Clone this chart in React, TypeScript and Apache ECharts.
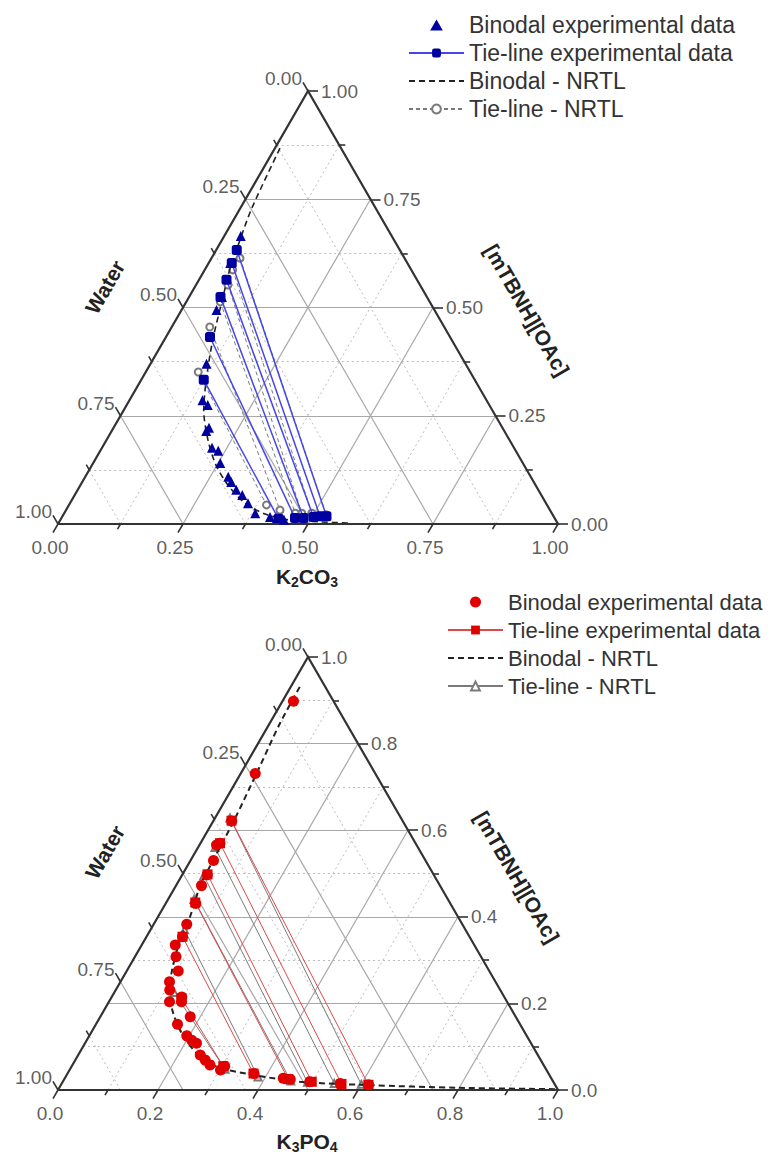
import React, { useEffect, useRef } from 'react';
import * as echarts from 'echarts';

const SQ = Math.sqrt(3) / 2;
const FONT = 'Liberation Sans, Arial, sans-serif';

// ---------- data: [salt mass fraction, IL mass fraction] ----------
// Top chart: K2CO3 + [mTBNH][OAc] + water
const k2co3BinodalExp = [
  [0.033, 0.665], [0.043, 0.603], [0.066, 0.524], [0.070, 0.494], [0.112, 0.370],
  [0.146, 0.286], [0.162, 0.275], [0.191, 0.222], [0.189, 0.215], [0.220, 0.176],
  [0.236, 0.169], [0.254, 0.141], [0.286, 0.109], [0.298, 0.097], [0.317, 0.079],
  [0.335, 0.067], [0.356, 0.048], [0.382, 0.025], [0.416, 0.016], [0.431, 0.014],
  [0.447, 0.010],
];
const k2co3TieExp = [
  [[0.041, 0.633], [0.528, 0.018]],
  [[0.046, 0.603], [0.515, 0.018]],
  [[0.055, 0.564], [0.503, 0.016]],
  [[0.063, 0.524], [0.484, 0.014]],
  [[0.088, 0.432], [0.467, 0.014]],
  [[0.125, 0.333], [0.435, 0.012]],
];
const k2co3BinodalNrtl = [
  [0.010, 0.868], [0.023, 0.729], [0.036, 0.656], [0.050, 0.587], [0.070, 0.517],
  [0.097, 0.425], [0.130, 0.333], [0.160, 0.263], [0.203, 0.194], [0.248, 0.136],
  [0.295, 0.090], [0.350, 0.048], [0.403, 0.023], [0.459, 0.009], [0.521, 0.005],
  [0.583, 0.002],
];
const k2co3TieNrtl = [
  [[0.057, 0.614], [0.526, 0.021]],
  [[0.056, 0.587], [0.495, 0.025]],
  [[0.064, 0.552], [0.475, 0.025]],
  [[0.068, 0.513], [0.462, 0.025]],
  [[0.076, 0.455], [0.428, 0.032]],
  [[0.105, 0.351], [0.395, 0.044]],
];

// Bottom chart: K3PO4 + [mTBNH][OAc] + water
const k3po4BinodalExp = [
  [0.022, 0.898], [0.029, 0.731], [0.037, 0.621], [0.039, 0.570], [0.034, 0.566],
  [0.046, 0.530], [0.050, 0.497], [0.051, 0.472], [0.060, 0.431], [0.066, 0.383],
  [0.072, 0.354], [0.067, 0.335], [0.082, 0.308], [0.103, 0.275], [0.098, 0.250],
  [0.108, 0.231], [0.140, 0.215], [0.121, 0.204], [0.145, 0.204], [0.180, 0.169],
  [0.163, 0.152], [0.195, 0.125], [0.210, 0.115], [0.223, 0.108], [0.244, 0.081],
  [0.260, 0.069], [0.275, 0.058], [0.302, 0.046], [0.306, 0.055], [0.373, 0.038],
  [0.437, 0.027], [0.452, 0.025], [0.494, 0.019], [0.557, 0.015], [0.615, 0.012],
];
const k3po4TieExp = [
  [[0.036, 0.622], [0.615, 0.012]],
  [[0.039, 0.570], [0.560, 0.014]],
  [[0.050, 0.498], [0.498, 0.019]],
  [[0.058, 0.433], [0.448, 0.025]],
  [[0.072, 0.354], [0.372, 0.038]],
  [[0.141, 0.212], [0.303, 0.055]],
];
const k3po4BinodalNrtl = [
  [0.018, 0.931], [0.0205, 0.847], [0.030, 0.747], [0.041, 0.620], [0.045, 0.531],
  [0.049, 0.470], [0.064, 0.400], [0.071, 0.346], [0.092, 0.270], [0.112, 0.223],
  [0.142, 0.177], [0.182, 0.131], [0.235, 0.085], [0.290, 0.054], [0.373, 0.035],
  [0.474, 0.019], [0.612, 0.0115], [0.800, 0.005], [0.993, 0.002],
];
const k3po4TieNrtl = [
  [[0.030, 0.628], [0.600, 0.013]],
  [[0.034, 0.560], [0.545, 0.015]],
  [[0.044, 0.495], [0.490, 0.018]],
  [[0.052, 0.440], [0.455, 0.021]],
  [[0.068, 0.370], [0.385, 0.030]],
  [[0.120, 0.225], [0.310, 0.048]],
];

// ---------- ticks ----------
const topSaltMajor = [0, 0.25, 0.5, 0.75, 1];
const topSaltMinor = [0.125, 0.375, 0.625, 0.875];
const topSaltLabels = ['0.00', '0.25', '0.50', '0.75', '1.00'];
const topILMajor = [0, 0.25, 0.5, 0.75, 1];
const topILMinor = [0.125, 0.375, 0.625, 0.875];
const topILLabels = ['0.00', '0.25', '0.50', '0.75', '1.00'];
const topWaterMajor = [0, 0.25, 0.5, 0.75, 1];
const topWaterMinor = [0.125, 0.375, 0.625, 0.875];
const topWaterLabels = ['0.00', '0.25', '0.50', '0.75', '1.00'];

const botSaltMajor = [0, 0.2, 0.4, 0.6, 0.8, 1];
const botSaltMinor = [0.1, 0.3, 0.5, 0.7, 0.9];
const botSaltLabels = ['0.0', '0.2', '0.4', '0.6', '0.8', '1.0'];
const botILMajor = [0, 0.2, 0.4, 0.6, 0.8, 1];
const botILMinor = [0.1, 0.3, 0.5, 0.7, 0.9];
const botILLabels = ['0.0', '0.2', '0.4', '0.6', '0.8', '1.0'];
const botWaterMajor = [0, 0.25, 0.5, 0.75, 1];
const botWaterMinor = [0.125, 0.375, 0.625, 0.875];
const botWaterLabels = ['0.00', '0.25', '0.50', '0.75', '1.00'];

// ---------- helpers ----------
const tern = (p: number[]) => [p[0] + p[1] / 2, p[1] * SQ];
const PX = 1 / 500; // data units per pixel (grid is 500px per unit)
const TRIANGLE_ICON = 'path://M5,0L10,8.66L0,8.66Z';

function frame(g: number, cfg: any) {
  const inner = (v: number) => v > 1e-9 && v < 1 - 1e-9;
  const waterSegs = (vals: number[]) =>
    vals.filter(inner).map((w) => [tern([1 - w, 0]), tern([0, 1 - w])]);

  const majorGrid = [
    ...cfg.saltMajor.filter(inner).map((v: number) => [tern([v, 0]), tern([v, 1 - v])]),
    ...cfg.ilMajor.filter(inner).map((v: number) => [tern([0, v]), tern([1 - v, v])]),
    ...waterSegs(cfg.waterMajor),
  ];
  const minorGrid = [
    ...cfg.saltMinor.map((v: number) => [tern([v, 0]), tern([v, 1 - v])]),
    ...cfg.ilMinor.map((v: number) => [tern([0, v]), tern([1 - v, v])]),
    ...waterSegs(cfg.waterMinor),
  ];

  const saltTick = (s: number, L: number) => {
    const a = tern([s, 0]);
    return [a, [a[0] - 0.5 * L * PX, a[1] - SQ * L * PX]];
  };
  const ilTick = (v: number, L: number) => {
    const a = tern([1 - v, v]);
    return [a, [a[0] + L * PX, a[1]]];
  };
  const waterTick = (w: number, L: number) => {
    const a = tern([0, 1 - w]);
    return [a, [a[0] - 0.5 * L * PX, a[1] + SQ * L * PX]];
  };
  const ticks = [
    ...cfg.saltMajor.map((v: number) => saltTick(v, 10)),
    ...cfg.saltMinor.map((v: number) => saltTick(v, 6)),
    ...cfg.ilMajor.map((v: number) => ilTick(v, 10)),
    ...cfg.ilMinor.map((v: number) => ilTick(v, 6)),
    ...cfg.waterMajor.map((v: number) => waterTick(v, 10)),
    ...cfg.waterMinor.map((v: number) => waterTick(v, 6)),
  ];

  const common = {
    type: 'lines',
    coordinateSystem: 'cartesian2d',
    xAxisIndex: g,
    yAxisIndex: g,
    silent: true,
    clip: false,
    polyline: false,
  };
  const lblCommon = {
    type: 'scatter',
    xAxisIndex: g,
    yAxisIndex: g,
    symbolSize: 0,
    silent: true,
    clip: false,
    z: 6,
  };
  const lblStyle = { show: true, formatter: '{b}', fontSize: 19, color: '#333', fontFamily: FONT };

  return [
    { ...common, name: 'minorGrid', z: 1, lineStyle: { color: '#bdbdbd', width: 1, type: [2, 3], opacity: 1 }, data: minorGrid.map((c: any) => ({ coords: c })) },
    { ...common, name: 'majorGrid', z: 1, lineStyle: { color: '#a8a8a8', width: 1.2, type: 'solid', opacity: 1 }, data: majorGrid.map((c: any) => ({ coords: c })) },
    { ...common, name: 'ticks', z: 5, lineStyle: { color: '#333', width: 1.6, opacity: 1 }, data: ticks.map((c: any) => ({ coords: c })) },
    {
      ...common, name: 'edges', z: 5, polyline: true,
      lineStyle: { color: '#333', width: 2.2, opacity: 1, join: 'miter' },
      data: [{ coords: [tern([0, 0]), tern([1, 0]), tern([0, 1]), tern([0, 0])] }],
    },
    {
      ...lblCommon, name: 'saltLabels',
      data: cfg.saltMajor.map((v: number, i: number) => ({ name: cfg.saltLabels[i], value: saltTick(v, 10)[1] })),
      label: { ...lblStyle, position: 'bottom', distance: 5, offset: [-3, 0] },
    },
    {
      ...lblCommon, name: 'ilLabels',
      data: cfg.ilMajor.map((v: number, i: number) => ({ name: cfg.ilLabels[i], value: ilTick(v, 10)[1] })),
      label: { ...lblStyle, position: 'right', distance: 3 },
    },
    {
      ...lblCommon, name: 'waterLabels',
      data: cfg.waterMajor.map((v: number, i: number) => ({ name: cfg.waterLabels[i], value: waterTick(v, 10)[1] })),
      label: { ...lblStyle, position: 'left', distance: 1, offset: [0, -4] },
    },
  ];
}

function dataSeries(g: number, sfx: string, d: any) {
  const out: any[] = [];
  d.tieNrtl.forEach((t: number[][]) => {
    out.push({
      type: 'line', name: 'Tie-line - NRTL' + sfx, xAxisIndex: g, yAxisIndex: g, clip: false, z: 2,
      data: t.map(tern), symbol: d.nrtlSymbol, symbolSize: 7, showSymbol: true,
      lineStyle: { color: '#7a7a7a', width: 1, type: d.nrtlTieDash },
      itemStyle: { color: '#7a7a7a' },
    });
  });
  out.push({
    type: 'line', name: 'Binodal - NRTL' + sfx, xAxisIndex: g, yAxisIndex: g, clip: false, z: 3,
    data: d.binNrtl.map(tern), symbol: 'none', smooth: 0.3,
    lineStyle: { color: '#222', width: d.binNrtlWidth, type: [6, 4] },
    itemStyle: { color: '#222' },
  });
  d.tieExp.forEach((t: number[][]) => {
    out.push({
      type: 'line', name: 'Tie-line experimental data' + sfx, xAxisIndex: g, yAxisIndex: g, clip: false, z: 4,
      data: t.map(tern), symbol: d.tieSymbol, symbolSize: 10, showSymbol: true,
      lineStyle: { color: d.tieLineColor, width: d.tieLineWidth },
      itemStyle: { color: d.markColor },
    });
  });
  out.push({
    type: 'scatter', name: 'Binodal experimental data' + sfx, xAxisIndex: g, yAxisIndex: g, clip: false, z: 5,
    data: d.binExp.map(tern), symbol: d.binSymbol, symbolSize: d.binSize,
    itemStyle: { color: d.markColor, opacity: 1 },
  });
  return out;
}

const legendItems = (sfx: string, markSymbol: string, markColor: string) => [
  { name: 'Binodal experimental data' + sfx, icon: markSymbol, itemStyle: { color: markColor } },
  { name: 'Tie-line experimental data' + sfx },
  { name: 'Binodal - NRTL' + sfx, itemStyle: { opacity: 0 } },
  { name: 'Tie-line - NRTL' + sfx },
];

export default function App() {
  const ref = useRef<HTMLDivElement>(null);
  useEffect(() => {
    if (!ref.current) return;
    const chart = echarts.init(ref.current, undefined, { renderer: 'svg' });

    const series = [
      ...frame(0, {
        saltMajor: topSaltMajor, saltMinor: topSaltMinor, saltLabels: topSaltLabels,
        ilMajor: topILMajor, ilMinor: topILMinor, ilLabels: topILLabels,
        waterMajor: topWaterMajor, waterMinor: topWaterMinor, waterLabels: topWaterLabels,
      }),
      ...frame(1, {
        saltMajor: botSaltMajor, saltMinor: botSaltMinor, saltLabels: botSaltLabels,
        ilMajor: botILMajor, ilMinor: botILMinor, ilLabels: botILLabels,
        waterMajor: botWaterMajor, waterMinor: botWaterMinor, waterLabels: botWaterLabels,
      }),
      ...dataSeries(0, '', {
        binExp: k2co3BinodalExp, tieExp: k2co3TieExp, binNrtl: k2co3BinodalNrtl, tieNrtl: k2co3TieNrtl,
        markColor: '#0000a0', tieLineColor: '#4646e6', tieLineWidth: 1.5, tieSymbol: 'roundRect',
        binSymbol: 'triangle', binSize: 10, nrtlSymbol: 'emptyCircle', nrtlTieDash: [4, 3], binNrtlWidth: 1.6,
      }),
      ...dataSeries(1, ' ', {
        binExp: k3po4BinodalExp, tieExp: k3po4TieExp, binNrtl: k3po4BinodalNrtl, tieNrtl: k3po4TieNrtl,
        markColor: '#e00000', tieLineColor: '#e04848', tieLineWidth: 1, tieSymbol: 'rect',
        binSymbol: 'circle', binSize: 11, nrtlSymbol: 'emptyTriangle', nrtlTieDash: 'solid', binNrtlWidth: 2,
      }),
    ];

    const subTitle = (x: number, y: number, main1: string, sub1: string, main2: string, sub2: string) => ({
      type: 'text', x, y,
      style: {
        text: `{a|${main1}}{b|${sub1}}{a|${main2}}{b|${sub2}}`,
        align: 'center', verticalAlign: 'middle',
        rich: {
          a: { fontSize: 21, fontWeight: 'bold', fontFamily: FONT, fill: '#222', color: '#222' },
          b: { fontSize: 14, fontWeight: 'bold', fontFamily: FONT, fill: '#222', color: '#222', padding: [12, 0, 0, 0] },
        },
      },
    });
    const rotTitle = (x: number, y: number, text: string, rot: number) => ({
      type: 'text', x, y, rotation: rot,
      style: { text, fontSize: 21, fontWeight: 'bold', fontFamily: FONT, fill: '#222', align: 'center', verticalAlign: 'middle' },
    });

    const legendBase = {
      orient: 'vertical', padding: 0, itemHeight: 11, itemGap: 4, selectedMode: false,
      symbolKeepAspect: true,
      formatter: (n: string) => n.trim(),
    };

    chart.setOption({
      animation: false,
      backgroundColor: '#ffffff',
      grid: [
        { left: 58, top: 91, width: 500, height: 433 },
        { left: 58, top: 657, width: 500, height: 433 },
      ],
      xAxis: [
        { gridIndex: 0, type: 'value', min: 0, max: 1, show: false },
        { gridIndex: 1, type: 'value', min: 0, max: 1, show: false },
      ],
      yAxis: [
        { gridIndex: 0, type: 'value', min: 0, max: SQ, show: false },
        { gridIndex: 1, type: 'value', min: 0, max: SQ, show: false },
      ],
      legend: [
        { ...legendBase, left: 408, top: 13, itemWidth: 55, data: legendItems('', TRIANGLE_ICON, '#0000a0'), textStyle: { fontSize: 23, color: '#333', fontFamily: FONT, lineHeight: 24 } },
        { ...legendBase, left: 447, top: 590, itemWidth: 55, data: legendItems(' ', 'circle', '#e00000'), textStyle: { fontSize: 22, color: '#333', fontFamily: FONT, lineHeight: 24 } },
      ],
      graphic: [
        rotTitle(105, 287, 'Water', Math.PI / 3),
        rotTitle(527, 310, '[mTBNH][OAc]', -Math.PI / 3),
        subTitle(307, 576, 'K', '2', 'CO', '3'),
        rotTitle(105, 852, 'Water', Math.PI / 3),
        rotTitle(517, 877, '[mTBNH][OAc]', -Math.PI / 3),
        subTitle(307, 1141, 'K', '3', 'PO', '4'),
      ],
      series,
    });
    return () => chart.dispose();
  }, []);
  return <div ref={ref} style={{ position: 'absolute', left: 0, top: 0, width: 780, height: 1156 }} />;
}
